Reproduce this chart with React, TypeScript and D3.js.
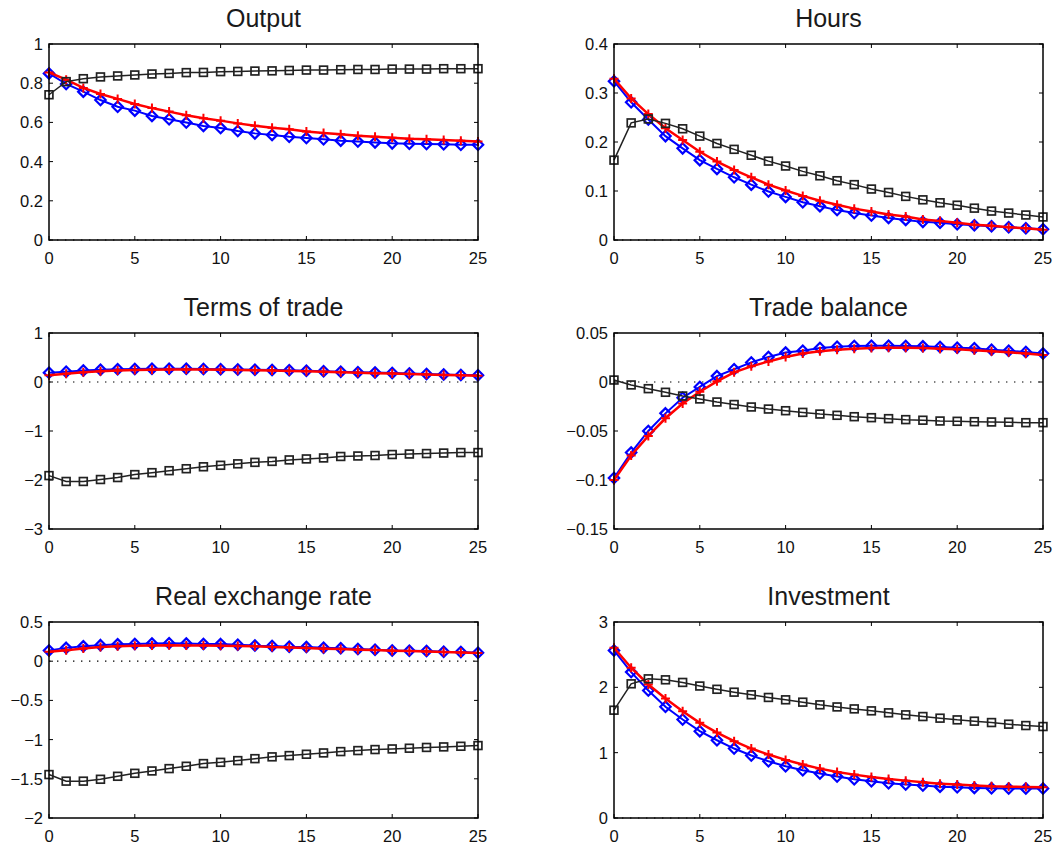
import React from "react";
import * as d3 from "d3";

const periods: number[] = d3.range(0, 26);

const panelTitles = ["Output", "Hours", "Terms of trade", "Trade balance", "Real exchange rate", "Investment"];

const outputBlue = [0.85, 0.796, 0.757, 0.714, 0.68, 0.66, 0.633, 0.616, 0.599, 0.582, 0.571, 0.556, 0.544, 0.536, 0.527, 0.52, 0.514, 0.507, 0.502, 0.498, 0.493, 0.491, 0.49, 0.488, 0.486, 0.486];
const outputRed = [0.855, 0.818, 0.776, 0.745, 0.72, 0.694, 0.673, 0.655, 0.636, 0.621, 0.609, 0.595, 0.583, 0.573, 0.565, 0.553, 0.546, 0.539, 0.532, 0.527, 0.522, 0.517, 0.514, 0.51, 0.507, 0.503];
const outputBlack = [0.741, 0.808, 0.823, 0.832, 0.837, 0.842, 0.847, 0.85, 0.854, 0.855, 0.859, 0.86, 0.862, 0.863, 0.865, 0.867, 0.867, 0.869, 0.87, 0.87, 0.872, 0.872, 0.872, 0.874, 0.874, 0.874];

const hoursBlue = [0.324, 0.281, 0.246, 0.212, 0.187, 0.163, 0.145, 0.128, 0.113, 0.099, 0.088, 0.077, 0.069, 0.061, 0.055, 0.05, 0.045, 0.041, 0.037, 0.035, 0.032, 0.03, 0.028, 0.026, 0.024, 0.022];
const hoursRed = [0.329, 0.289, 0.257, 0.228, 0.204, 0.18, 0.16, 0.143, 0.128, 0.113, 0.101, 0.09, 0.08, 0.072, 0.064, 0.058, 0.052, 0.048, 0.042, 0.039, 0.035, 0.031, 0.029, 0.026, 0.024, 0.021];
const hoursBlack = [0.163, 0.239, 0.247, 0.238, 0.227, 0.212, 0.197, 0.185, 0.173, 0.161, 0.151, 0.14, 0.131, 0.121, 0.113, 0.104, 0.097, 0.089, 0.082, 0.076, 0.071, 0.065, 0.059, 0.055, 0.051, 0.047];

const totBlue = [0.19, 0.21, 0.235, 0.25, 0.26, 0.265, 0.27, 0.27, 0.27, 0.265, 0.26, 0.255, 0.25, 0.245, 0.24, 0.23, 0.22, 0.21, 0.2, 0.195, 0.185, 0.175, 0.165, 0.155, 0.145, 0.14];
const totRed = [0.14, 0.17, 0.2, 0.22, 0.235, 0.245, 0.25, 0.255, 0.255, 0.255, 0.25, 0.245, 0.24, 0.235, 0.225, 0.22, 0.21, 0.2, 0.19, 0.18, 0.175, 0.165, 0.155, 0.145, 0.14, 0.13];
const totBlack = [-1.91, -2.03, -2.03, -1.99, -1.95, -1.89, -1.85, -1.81, -1.77, -1.73, -1.7, -1.67, -1.64, -1.62, -1.59, -1.57, -1.55, -1.52, -1.51, -1.5, -1.48, -1.47, -1.46, -1.45, -1.44, -1.44];

const tbBlue = [-0.098, -0.072, -0.05, -0.032, -0.016, -0.005, 0.006, 0.013, 0.02, 0.0255, 0.03, 0.032, 0.0347, 0.036, 0.0367, 0.037, 0.037, 0.0367, 0.0364, 0.0357, 0.035, 0.0344, 0.033, 0.032, 0.0306, 0.029];
const tbRed = [-0.1, -0.075, -0.055, -0.037, -0.022, -0.0099, 0.0007, 0.0099, 0.016, 0.021, 0.0255, 0.029, 0.0313, 0.033, 0.034, 0.0347, 0.035, 0.035, 0.0347, 0.034, 0.0333, 0.0323, 0.0313, 0.0303, 0.029, 0.0276];
const tbBlack = [0.002, -0.003, -0.0068, -0.0105, -0.0143, -0.0173, -0.0204, -0.023, -0.0255, -0.0276, -0.0293, -0.031, -0.0327, -0.034, -0.0354, -0.0364, -0.0374, -0.0384, -0.039, -0.0398, -0.0401, -0.0405, -0.0408, -0.041, -0.0415, -0.0415];

const rerBlue = [0.138, 0.17, 0.19, 0.205, 0.215, 0.22, 0.225, 0.23, 0.225, 0.22, 0.218, 0.21, 0.2, 0.195, 0.185, 0.18, 0.172, 0.164, 0.155, 0.147, 0.138, 0.134, 0.13, 0.12, 0.117, 0.108];
const rerRed = [0.12, 0.14, 0.163, 0.18, 0.19, 0.198, 0.2, 0.205, 0.2, 0.2, 0.198, 0.193, 0.19, 0.18, 0.175, 0.168, 0.16, 0.155, 0.147, 0.142, 0.134, 0.13, 0.125, 0.117, 0.112, 0.104];
const rerBlack = [-1.446, -1.53, -1.53, -1.506, -1.468, -1.43, -1.4, -1.37, -1.34, -1.306, -1.29, -1.268, -1.243, -1.22, -1.204, -1.187, -1.17, -1.153, -1.14, -1.127, -1.119, -1.11, -1.1, -1.093, -1.085, -1.076];

const invBlue = [2.565, 2.233, 1.952, 1.702, 1.508, 1.329, 1.19, 1.063, 0.956, 0.869, 0.792, 0.731, 0.68, 0.634, 0.593, 0.562, 0.531, 0.511, 0.496, 0.48, 0.47, 0.46, 0.455, 0.45, 0.45, 0.45];
const invRed = [2.606, 2.3, 2.044, 1.829, 1.635, 1.456, 1.308, 1.175, 1.063, 0.971, 0.889, 0.818, 0.756, 0.705, 0.664, 0.629, 0.598, 0.572, 0.547, 0.526, 0.511, 0.496, 0.485, 0.48, 0.475, 0.47];
const invBlack = [1.65, 2.054, 2.13, 2.115, 2.075, 2.02, 1.97, 1.926, 1.886, 1.845, 1.809, 1.773, 1.732, 1.7, 1.67, 1.64, 1.61, 1.579, 1.553, 1.528, 1.502, 1.482, 1.461, 1.436, 1.415, 1.4];

const yDomains: [number, number][] = [[0, 1], [0, 0.4], [-3, 1], [-0.15, 0.05], [-2, 0.5], [0, 3]];
const yTicks: number[][] = [
  [0, 0.2, 0.4, 0.6, 0.8, 1],
  [0, 0.1, 0.2, 0.3, 0.4],
  [-3, -2, -1, 0, 1],
  [-0.15, -0.1, -0.05, 0, 0.05],
  [-2, -1.5, -1, -0.5, 0, 0.5],
  [0, 1, 2, 3],
];
const xTicks = [0, 5, 10, 15, 20, 25];

const blueSeries = [outputBlue, hoursBlue, totBlue, tbBlue, rerBlue, invBlue];
const redSeries = [outputRed, hoursRed, totRed, tbRed, rerRed, invRed];
const blackSeries = [outputBlack, hoursBlack, totBlack, tbBlack, rerBlack, invBlack];

const W = 1059;
const H = 846;
const colLefts = [49, 614];
const rowTops = [44, 333, 622];
const axW = 429;
const axH = 196;
const FONT = "'Liberation Sans', Arial, Helvetica, sans-serif";
const BLUE = "#0000ff";
const RED = "#ff0000";
const BLACK = "#222222";

function fmt(v: number): string {
  const s = String(Math.round(v * 1000) / 1000);
  return s.replace("-", "\u2212");
}

function Panel({ idx }: { idx: number }) {
  const col = idx % 2;
  const row = Math.floor(idx / 2);
  const left = colLefts[col];
  const top = rowTops[row];
  const x = d3.scaleLinear().domain([0, 25]).range([left, left + axW]);
  const y = d3.scaleLinear().domain(yDomains[idx]).range([top + axH, top]);
  const line = d3
    .line<number>()
    .x((_, i) => x(periods[i]))
    .y((d) => y(d));
  const blue = blueSeries[idx];
  const red = redSeries[idx];
  const black = blackSeries[idx];
  const tl = 4;
  return (
    <g>
      <text x={left + axW / 2} y={top - 17} textAnchor="middle" fontFamily={FONT} fontSize={25} fill="#1a1a1a">
        {panelTitles[idx]}
      </text>
      <line x1={x(0)} x2={x(25)} y1={y(0)} y2={y(0)} stroke="#000" strokeWidth={1.2} strokeDasharray="1.4 6.6" />
      {xTicks.map((t) => (
        <g key={"xt" + t}>
          <line x1={x(t)} x2={x(t)} y1={top + axH} y2={top + axH - tl} stroke="#000" strokeWidth={1} />
          <line x1={x(t)} x2={x(t)} y1={top} y2={top + tl} stroke="#000" strokeWidth={1} />
          <text x={x(t)} y={top + axH + 24} textAnchor="middle" fontFamily={FONT} fontSize={16.5} fill="#111">
            {fmt(t)}
          </text>
        </g>
      ))}
      {yTicks[idx].map((t) => (
        <g key={"yt" + t}>
          <line x1={left} x2={left + tl} y1={y(t)} y2={y(t)} stroke="#000" strokeWidth={1} />
          <line x1={left + axW} x2={left + axW - tl} y1={y(t)} y2={y(t)} stroke="#000" strokeWidth={1} />
          <text x={left - 6} y={y(t) + 6} textAnchor="end" fontFamily={FONT} fontSize={16.5} fill="#111">
            {fmt(t)}
          </text>
        </g>
      ))}
      <path d={line(blue) || ""} fill="none" stroke={BLUE} strokeWidth={2} />
      {blue.map((v, i) => {
        const cx = x(periods[i]);
        const cy = y(v);
        const r = 5.2;
        return (
          <path
            key={"b" + i}
            d={`M${cx},${cy - r}L${cx + r},${cy}L${cx},${cy + r}L${cx - r},${cy}Z`}
            fill="none"
            stroke={BLUE}
            strokeWidth={2.2}
          />
        );
      })}
      <path d={line(red) || ""} fill="none" stroke={RED} strokeWidth={2.5} />
      {red.map((v, i) => {
        const cx = x(periods[i]);
        const cy = y(v);
        const r = 4.5;
        return (
          <path
            key={"r" + i}
            d={`M${cx - r},${cy}L${cx + r},${cy}M${cx},${cy - r}L${cx},${cy + r}`}
            fill="none"
            stroke={RED}
            strokeWidth={2}
          />
        );
      })}
      <path d={line(black) || ""} fill="none" stroke={BLACK} strokeWidth={1.5} />
      {black.map((v, i) => {
        const cx = x(periods[i]);
        const cy = y(v);
        const r = 3.9;
        return (
          <rect key={"k" + i} x={cx - r} y={cy - r} width={2 * r} height={2 * r} fill="none" stroke={BLACK} strokeWidth={1.7} />
        );
      })}
      <rect x={left} y={top} width={axW} height={axH} fill="none" stroke="#000" strokeWidth={1.5} />
    </g>
  );
}

export default function App() {
  return (
    <svg width={W} height={H} style={{ position: "absolute", left: 0, top: 0, background: "#fff" }}>
      <rect x={0} y={0} width={W} height={H} fill="#fff" />
      {panelTitles.map((_, i) => (
        <Panel key={i} idx={i} />
      ))}
    </svg>
  );
}
